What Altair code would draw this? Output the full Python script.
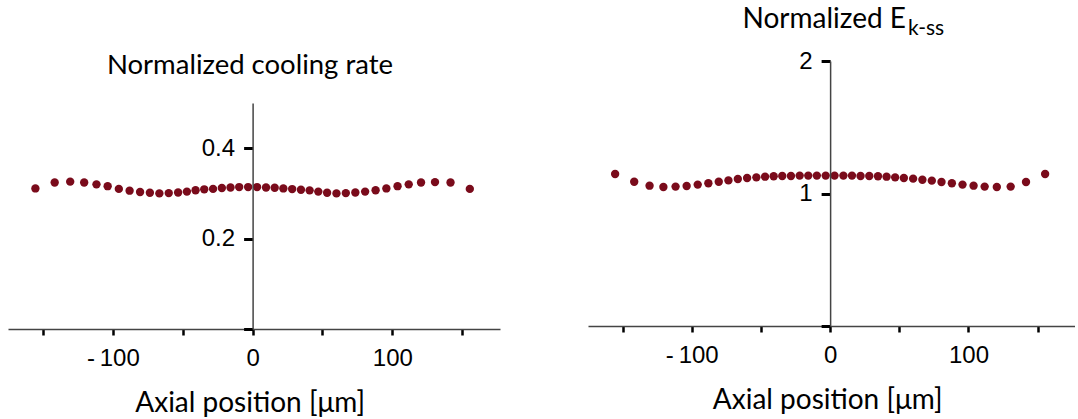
import altair as alt
import pandas as pd

# ---- data ----
x_um = [-155.4, -141.6, -130.5, -120.5, -111.7, -103.7, -95.7, -88.0, -80.5, -73.5, -66.7,
        -60.0, -53.3, -47.0, -40.8, -34.6, -28.3, -22.0, -15.8, -9.6, -3.2,
        3.2, 9.6, 15.8, 22.0, 28.3, 34.6, 40.8, 47.0, 53.3, 60.0, 66.7,
        73.5, 80.5, 88.0, 95.7, 103.7, 111.7, 120.5, 130.5, 141.6, 155.4]
cooling = [0.311, 0.324, 0.326, 0.324, 0.320, 0.316, 0.310, 0.306, 0.303, 0.3015, 0.300,
           0.3007, 0.302, 0.304, 0.307, 0.309, 0.310, 0.312, 0.313, 0.314, 0.314,
           0.314, 0.313, 0.3126, 0.311, 0.3096, 0.308, 0.3067, 0.304, 0.3015, 0.300,
           0.3007, 0.302, 0.304, 0.307, 0.311, 0.316, 0.320, 0.324, 0.325, 0.324, 0.310]
energy = [1.147, 1.089, 1.059, 1.049, 1.052, 1.057, 1.067, 1.077, 1.089, 1.099, 1.109,
          1.117, 1.122, 1.127, 1.130, 1.132, 1.132, 1.135, 1.135, 1.135, 1.135,
          1.135, 1.135, 1.135, 1.132, 1.132, 1.130, 1.127, 1.122, 1.117, 1.112,
          1.104, 1.097, 1.087, 1.077, 1.067, 1.059, 1.052, 1.049, 1.052, 1.087, 1.147]

x_ticks = [-150, -100, -50, 0, 50, 100, 150]
cooling_ticks = [0, 0.2, 0.4]
energy_ticks = [0, 1, 2]
x_domain = [-175, 177]
cooling_domain = [0, 0.5]
energy_domain = [0, 2]

left_title = "Normalized cooling rate"
right_title_main = "Normalized E"
right_title_sub = "k-ss"
x_title = "Axial position [\u03bcm]"

# ---- layout ----
LW, RW, H = 492, 487, 329
POINT_COLOR = "#7a0b1b"
TITLE_FONT = "Lato"
LABEL_FONT = "Liberation Sans"

df = pd.DataFrame({"x": x_um, "cooling": cooling, "energy": energy})


def zero_px(width):
    return width * (0 - x_domain[0]) / (x_domain[1] - x_domain[0])


def x_axis(width, offset=0):
    return alt.Axis(
        values=x_ticks,
        labelExpr="datum.value % 100 != 0 ? '' : (datum.value < 0 ? '-\u2009' + format(-datum.value, 'd') : format(datum.value, 'd'))",
        grid=False, offset=offset, zindex=1, labelOverlap=False,
        domainColor="#444444", domainWidth=1.5,
        tickColor="black", tickWidth=2.5, tickSize=6,
        labelFont=LABEL_FONT, labelFontSize=24, labelColor="black", labelPadding=11,
        title=x_title, titleFont=TITLE_FONT, titleFontSize=28, titleFontWeight="normal",
        titleColor="black", titleX=zero_px(width) - 3, titleY=82, titleAlign="center",
        titleBaseline="alphabetic",
    )


def y_axis(width, ticks, fmt):
    return alt.Axis(
        values=ticks,
        labelExpr="datum.value == 0 ? '' : format(datum.value, '" + fmt + "')",
        grid=False, offset=-zero_px(width), zindex=1, labelOverlap=False,
        domainColor="#444444", domainWidth=1.5,
        tickColor="black", tickWidth=3, tickSize=9,
        labelFont=LABEL_FONT, labelFontSize=24, labelColor="black", labelPadding=9,
        title=None,
    )


def text_layer(txt, x, y, size, align):
    return alt.Chart(pd.DataFrame({"t": [txt]})).mark_text(
        font=TITLE_FONT, fontSize=size, align=align, baseline="alphabetic", color="black"
    ).encode(text="t:N", x=alt.value(x), y=alt.value(y))


left_pts = alt.Chart(df).mark_circle(size=70, color=POINT_COLOR, opacity=1).encode(
    x=alt.X("x:Q", scale=alt.Scale(domain=x_domain), axis=x_axis(LW)),
    y=alt.Y("cooling:Q", scale=alt.Scale(domain=cooling_domain, range=[329, 103]),
            axis=y_axis(LW, cooling_ticks, ".1f")),
)
left = alt.layer(
    left_pts, text_layer(left_title, 242, 74, 27.5, "center")
).properties(width=LW, height=H)

right_pts = alt.Chart(df).mark_circle(size=70, color=POINT_COLOR, opacity=1).encode(
    x=alt.X("x:Q", scale=alt.Scale(domain=x_domain), axis=x_axis(RW, offset=-3)),
    y=alt.Y("energy:Q", scale=alt.Scale(domain=energy_domain, range=[326, 61]),
            axis=y_axis(RW, energy_ticks, "d")),
)
right = alt.layer(
    right_pts,
    text_layer(right_title_main, 318, 28, 28, "right"),
    text_layer(right_title_sub, 320, 35, 21, "left"),
).properties(width=RW, height=H)

chart = alt.hconcat(left, right, spacing=88).configure_view(strokeWidth=0).properties(
    padding={"left": 8, "top": 0, "right": 0, "bottom": 0}
)

chart.save("out.html", embed_options={"renderer": "svg", "actions": False})
